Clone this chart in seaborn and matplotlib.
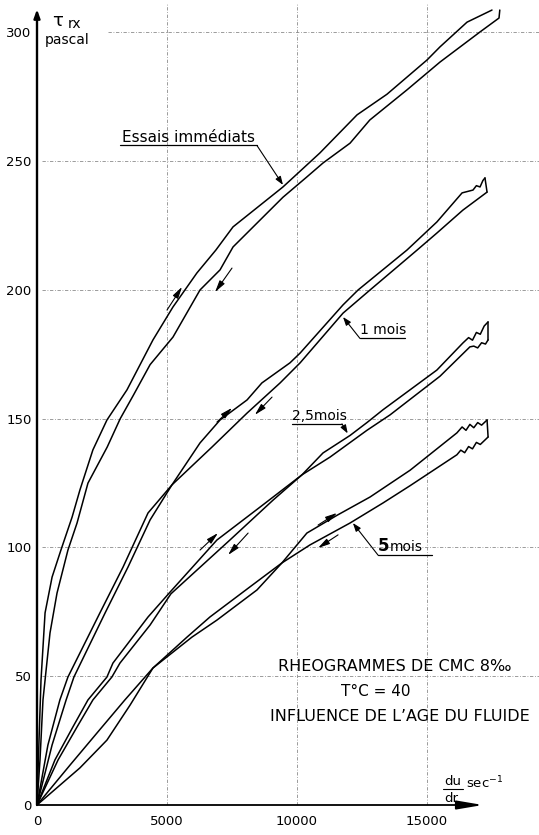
import matplotlib
matplotlib.use("Agg")
import matplotlib.pyplot as plt
import seaborn as sns
import pandas as pd

# ---------------- data ----------------
# shear rate du/dr (sec^-1) and shear stress tau_rx (pascal)
ess_up_x = [0, 77, 154, 310, 580, 920, 1350, 1650, 2150, 2690, 3460, 4460, 5230, 6150, 6880, 7540, 9460,
            10880, 12310, 13460, 15000, 15500, 16540, 17500]
ess_up_y = [0, 25, 48.5, 74.6, 88.5, 99, 111.8, 122.3, 137.9, 149.5, 161.2, 180.6, 193.4, 206.6, 215.5, 224.5, 240,
            253.2, 268, 276, 289.3, 294.4, 304, 308.7]
ess_dn_x = [0, 115, 230, 500, 770, 1190, 1540, 1960, 2700, 3200, 3700, 4350, 5230, 6270, 7040, 7540, 9460,
            10380, 11000, 12040, 12800, 14230, 15500, 17040, 17770, 17800]
ess_dn_y = [0, 17.5, 40.8, 66.8, 82.3, 99, 109.5, 125, 139, 150, 159, 171, 181.7, 200, 207.8, 216.7, 236,
            243.9, 249.3, 257, 266, 277.7, 288.5, 300.2, 305.6, 308.7]

m1_up_x = [0, 420, 880, 1190, 2420, 3310, 4270, 5190, 6270, 7040, 8080, 8650, 9730, 10120, 11770, 12350,
           14230, 15380, 16350, 16770, 16900, 17040, 17150, 17230]
m1_up_y = [0, 23.3, 40.8, 49.7, 74.6, 92.4, 113.4, 124.3, 140.6, 149.5, 157.3, 163.9, 171.7, 175.5, 194.2, 200,
           215.5, 226.4, 237.7, 238.8, 240.5, 240, 242.5, 243.5]
m1_dn_x = [0, 580, 1120, 1420, 2620, 3500, 4350, 5190, 6730, 8080, 9350, 10120, 11770, 12810, 14620, 15380,
           16380, 17310]
m1_dn_y = [0, 23.3, 40.8, 49.7, 74.6, 92.4, 110.7, 124.3, 139, 152.2, 163.9, 171.7, 191, 200, 215.5, 222.1,
           231, 238]

m25_up_x = [0, 690, 1380, 1960, 2690, 2920, 4270, 5120, 6920, 8580, 10190, 11000, 12040, 12690, 13310, 15380,
            16380, 16600, 16750, 16900, 17050, 17200, 17350]
m25_up_y = [0, 17.5, 30.3, 40.8, 49.7, 55.1, 73, 82.7, 102.9, 115.7, 128.2, 136.7, 143.5, 148.5, 153.5, 168.9,
            179.4, 181.5, 180.5, 183.5, 182.8, 186, 187.6]
m25_dn_x = [0, 810, 1540, 2150, 2880, 3190, 4350, 5150, 7420, 9080, 10190, 11270, 12690, 13580, 15500, 16650,
            16800, 16950, 17100, 17250, 17350]
m25_dn_y = [0, 17.5, 30.3, 40.8, 49.7, 55.1, 69.9, 82.0, 102.9, 118.4, 128.2, 135.1, 145.5, 151.5, 166.5, 177.9,
            178.2, 177.5, 179.5, 179, 180.6]

m5_up_x = [0, 1270, 2310, 3380, 4460, 5960, 6920, 8460, 9420, 10380, 11540, 12810, 14350, 16150, 16350, 16500,
           16650, 16800, 16950, 17100, 17310]
m5_up_y = [0, 15.5, 28, 40.8, 53.2, 65.2, 71.8, 83.5, 94, 105.6, 112.5, 119.6, 130, 144.5, 146.8, 145.5,
           147.8, 146.5, 148.5, 147.5, 149.5]
m5_dn_x = [0, 1650, 2690, 3580, 4460, 5770, 6650, 8190, 9420, 10500, 12040, 13310, 14350, 16150, 16300, 16450,
           16600, 16750, 16900, 17050, 17350]
m5_dn_y = [0, 14.4, 25.2, 38.8, 53.2, 65.2, 73, 84.7, 94, 101, 109.5, 117.3, 124, 136, 137.8, 136.8,
           139.2, 138.3, 140.8, 140, 142.9]

x_ticks = [0, 5000, 10000, 15000]
y_ticks = [0, 50, 100, 150, 200, 250, 300]

curves = {
    "Essais immédiats (aller)": (ess_up_x, ess_up_y),
    "Essais immédiats (retour)": (ess_dn_x, ess_dn_y),
    "1 mois (aller)": (m1_up_x, m1_up_y),
    "1 mois (retour)": (m1_dn_x, m1_dn_y),
    "2,5 mois (aller)": (m25_up_x, m25_up_y),
    "2,5 mois (retour)": (m25_dn_x, m25_dn_y),
    "5 mois (aller)": (m5_up_x, m5_up_y),
    "5 mois (retour)": (m5_dn_x, m5_dn_y),
}
rows = []
for name, (xs, ys) in curves.items():
    for i, (xv, yv) in enumerate(zip(xs, ys)):
        rows.append({"courbe": name, "ordre": i, "du_dr": xv, "tau": yv})
df = pd.DataFrame(rows)

# ---------------- figure ----------------
sns.set_style("white")
plt.rcParams["font.family"] = ["DejaVu Sans"]
plt.rcParams["text.color"] = "black"
plt.rcParams["xtick.color"] = "black"
plt.rcParams["ytick.color"] = "black"

fig = plt.figure(figsize=(5.39, 8.35), dpi=100)
ax = fig.add_axes([37 / 539, 30 / 835, 502 / 539, 805 / 835])
ax.set_xlim(0, 19308)
ax.set_ylim(0, 312.6)
for s in ax.spines.values():
    s.set_visible(False)

# grid (light, broken dashes)
grid_kw = dict(color="0.55", lw=0.6, linestyle=(0, (4, 2, 1, 2)), zorder=1)
for yv in y_ticks[1:]:
    ax.hlines(yv, 2730 if yv == 300 else 200, 19308, **grid_kw)
for xv in x_ticks[1:]:
    ax.vlines(xv, 0, 311, **grid_kw)

# curves
sns.lineplot(data=df, x="du_dr", y="tau", units="courbe", estimator=None, sort=False,
             color="black", lw=1.1, ax=ax, legend=False, zorder=3)
# closing segments at the top of the loops
for up, dn in [((m1_up_x, m1_up_y), (m1_dn_x, m1_dn_y)),
               ((m25_up_x, m25_up_y), (m25_dn_x, m25_dn_y)),
               ((m5_up_x, m5_up_y), (m5_dn_x, m5_dn_y))]:
    ax.plot([up[0][-1], dn[0][-1]], [up[1][-1], dn[1][-1]], color="black", lw=1.1, zorder=3)

# axes with arrows
ax.annotate("", xy=(0, 309), xytext=(0, 0),
            arrowprops=dict(arrowstyle="-|>,head_length=0.5,head_width=0.18", lw=1.7, color="black",
                            shrinkA=0, shrinkB=0, mutation_scale=10), annotation_clip=False, zorder=4)
ax.annotate("", xy=(17150, 0), xytext=(0, 0),
            arrowprops=dict(arrowstyle="-|>,head_length=1.3,head_width=0.22", lw=1.3, color="black",
                            shrinkA=0, shrinkB=0, mutation_scale=12), annotation_clip=False, zorder=4)

ax.set_xticks(x_ticks)
ax.set_xticklabels([str(v) for v in x_ticks])
ax.set_yticks(y_ticks)
ax.set_yticklabels([str(v) for v in y_ticks])
ax.tick_params(axis="x", length=0, pad=7, labelsize=9.5, labelcolor="black")
ax.tick_params(axis="y", length=0, pad=4, labelsize=9.5, labelcolor="black")
ax.set_xlabel("")
ax.set_ylabel("")

# axis titles
ax.text(577, 302.5, "τ", fontsize=13, va="baseline", ha="left")
ax.text(1200, 301.6, "rx", fontsize=10, va="baseline", ha="left")
ax.text(310, 295.4, "pascal", fontsize=10, va="baseline", ha="left")
ax.text(15650, 7.6, "du", fontsize=9.5, va="baseline", ha="left")
ax.plot([15620, 16380], [6.2, 6.2], color="black", lw=0.8)
ax.text(15650, 1.2, "dr", fontsize=9.5, va="baseline", ha="left")
ax.text(16500, 6.4, "sec$^{-1}$", fontsize=9.5, va="baseline", ha="left")

# curve labels with leaders
lead_kw = dict(arrowstyle="-|>,head_length=0.5,head_width=0.18", lw=0.8, color="black",
               shrinkA=0, shrinkB=0, mutation_scale=10)
ax.text(3270, 257.6, "Essais immédiats", fontsize=11, va="baseline", ha="left")
ax.plot([3190, 8460], [256.1, 256.1], color="black", lw=0.9)
ax.annotate("", xy=(9460, 240.8), xytext=(8460, 256.1), arrowprops=lead_kw)

ax.text(12420, 182.9, "1 mois", fontsize=10, va="baseline", ha="left")
ax.plot([12420, 14150], [181.2, 181.2], color="black", lw=0.9)
ax.annotate("", xy=(11770, 189.5), xytext=(12420, 181.2), arrowprops=lead_kw)

ax.text(9810, 149.6, "2,5mois", fontsize=10, va="baseline", ha="left")
ax.plot([9810, 11730], [148.0, 148.0], color="black", lw=0.9)
ax.annotate("", xy=(11950, 144.3), xytext=(11730, 148.0), arrowprops=lead_kw)

ax.text(13120, 98.7, "5", fontsize=12, fontweight="bold", va="baseline", ha="left")
ax.text(13580, 98.7, "mois", fontsize=10, va="baseline", ha="left")
ax.plot([13120, 15190], [97.0, 97.0], color="black", lw=0.9)
ax.annotate("", xy=(12150, 109.5), xytext=(13120, 97.0), arrowprops=lead_kw)

# direction arrows along the loops
dir_kw = dict(arrowstyle="-|>,head_length=0.7,head_width=0.18", lw=0.8, color="black",
              shrinkA=0, shrinkB=0, mutation_scale=10)
direction_arrows = [((5000, 192.2), (5580, 201.2)), ((7500, 208.5), (6850, 199.2)),
                    ((6920, 148.7), (7500, 154.2)), ((9040, 158.4), (8380, 151.5)),
                    ((6270, 99.0), (6960, 105.6)), ((8120, 105.6), (7350, 97.1)),
                    ((10810, 108.7), (11540, 113.4)), ((11580, 104.9), (10810, 99.8))]
for tail, head in direction_arrows:
    ax.annotate("", xy=head, xytext=tail, arrowprops=dir_kw)

# title block
ax.text(13770, 53.6, "RHEOGRAMMES DE CMC 8‰", fontsize=11.5, ha="center", va="center")
ax.text(13040, 43.9, "T°C = 40", fontsize=11, ha="center", va="center")
ax.text(13960, 34.2, "INFLUENCE DE L’AGE DU FLUIDE", fontsize=11.5, ha="center", va="center")

fig.savefig("out.png", dpi=100, facecolor="white")
